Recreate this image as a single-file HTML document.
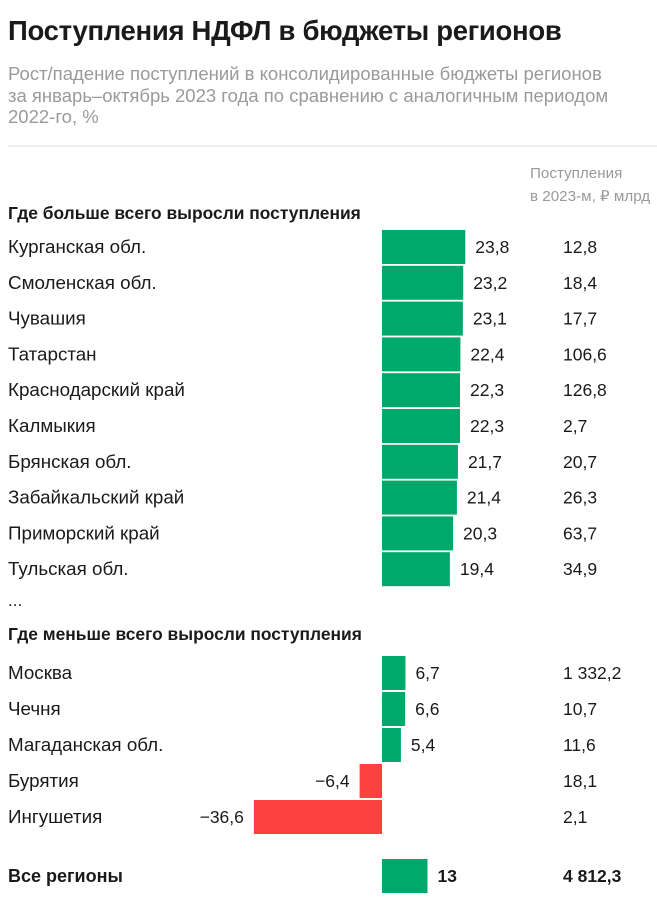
<!DOCTYPE html>
<html><head><meta charset="utf-8"><style>
body{margin:0;background:#fff;}
svg text{font-family:"Liberation Sans","Noto Sans CJK SC",sans-serif;}
</style></head><body>
<svg id="chart" width="657" height="895" xmlns="http://www.w3.org/2000/svg">
<text x="8" y="40" font-size="27.5" font-weight="bold" fill="#1a1a1a" letter-spacing="-0.3">Поступления НДФЛ в бюджеты регионов</text>
<g font-size="18.5" fill="#9a9a9a">
<text x="8" y="80">Рост/падение поступлений в консолидированные бюджеты регионов</text>
<text x="8" y="102">за январь–октябрь 2023 года по сравнению с аналогичным периодом</text>
<text x="8" y="123">2022-го, %</text>
</g>
<line x1="8" y1="146" x2="657" y2="146" stroke="#dddddd" stroke-width="1"/>
<g font-size="15.2" fill="#9a9a9a">
<text x="530" y="178">Поступления</text>
<text x="530" y="201">в 2023-м, ₽ млрд</text>
</g>
<text x="8" y="219" font-size="17.4" font-weight="bold" fill="#1a1a1a">Где больше всего выросли поступления</text>
<text x="8" y="606" font-size="17" fill="#1a1a1a">...</text>
<text x="8" y="640" font-size="17.4" font-weight="bold" fill="#1a1a1a">Где меньше всего выросли поступления</text>
<g id="rows"></g>
</svg>
<script>
const topNames=["Курганская обл.","Смоленская обл.","Чувашия","Татарстан","Краснодарский край","Калмыкия","Брянская обл.","Забайкальский край","Приморский край","Тульская обл."];
const topGrowth=[23.8,23.2,23.1,22.4,22.3,22.3,21.7,21.4,20.3,19.4];
const topRevenue=["12,8","18,4","17,7","106,6","126,8","2,7","20,7","26,3","63,7","34,9"];
const botNames=["Москва","Чечня","Магаданская обл.","Бурятия","Ингушетия"];
const botGrowth=[6.7,6.6,5.4,-6.4,-36.6];
const botRevenue=["1 332,2","10,7","11,6","18,1","2,1"];
const totalName=["Все регионы"];
const totalGrowth=[13];
const totalRevenue=["4 812,3"];

const NS="http://www.w3.org/2000/svg";
const g=document.getElementById('rows');
const x0=382, k=3.5;
function xs(v){return x0+v*k;}
function fmt(v){return (v<0?"−":"")+String(Math.abs(v)).replace('.',',');}
function mk(tag,attrs,txt){const e=document.createElementNS(NS,tag);for(const a in attrs)e.setAttribute(a,attrs[a]);if(txt!==undefined)e.textContent=txt;g.appendChild(e);return e;}
function row(name,v,rev,cy,bold){
  const fw=bold?"bold":"normal";
  const fs=17.5;
  const l=mk('text',{x:8,y:cy+6,'font-size':bold?18:18.8,'font-weight':fw,fill:'#1a1a1a'},name);
  
  
  const a=Math.min(xs(0),xs(v)),w=Math.abs(xs(v)-xs(0));
  const r=mk('rect',{x:a,y:cy-17,width:w,height:34,fill:v<0?'#ff4040':'#00a86b'});
  
  
  const vl=v<0?mk('text',{x:a-10,y:cy+6,'font-size':fs,'text-anchor':'end','font-weight':fw,fill:'#1a1a1a'},fmt(v)):mk('text',{x:a+w+10,y:cy+6,'font-size':fs,'font-weight':fw,fill:'#1a1a1a'},fmt(v));
  
  
  const rv=mk('text',{x:563,y:cy+6,'font-size':fs,'font-weight':fw,fill:'#1a1a1a'},rev);
  
  
}
topNames.forEach((n,i)=>row(n,topGrowth[i],topRevenue[i],247+i*35.8,false));
botNames.forEach((n,i)=>row(n,botGrowth[i],botRevenue[i],673+i*36,false));
row(totalName[0],totalGrowth[0],totalRevenue[0],876,true);
</script>
</body></html>
